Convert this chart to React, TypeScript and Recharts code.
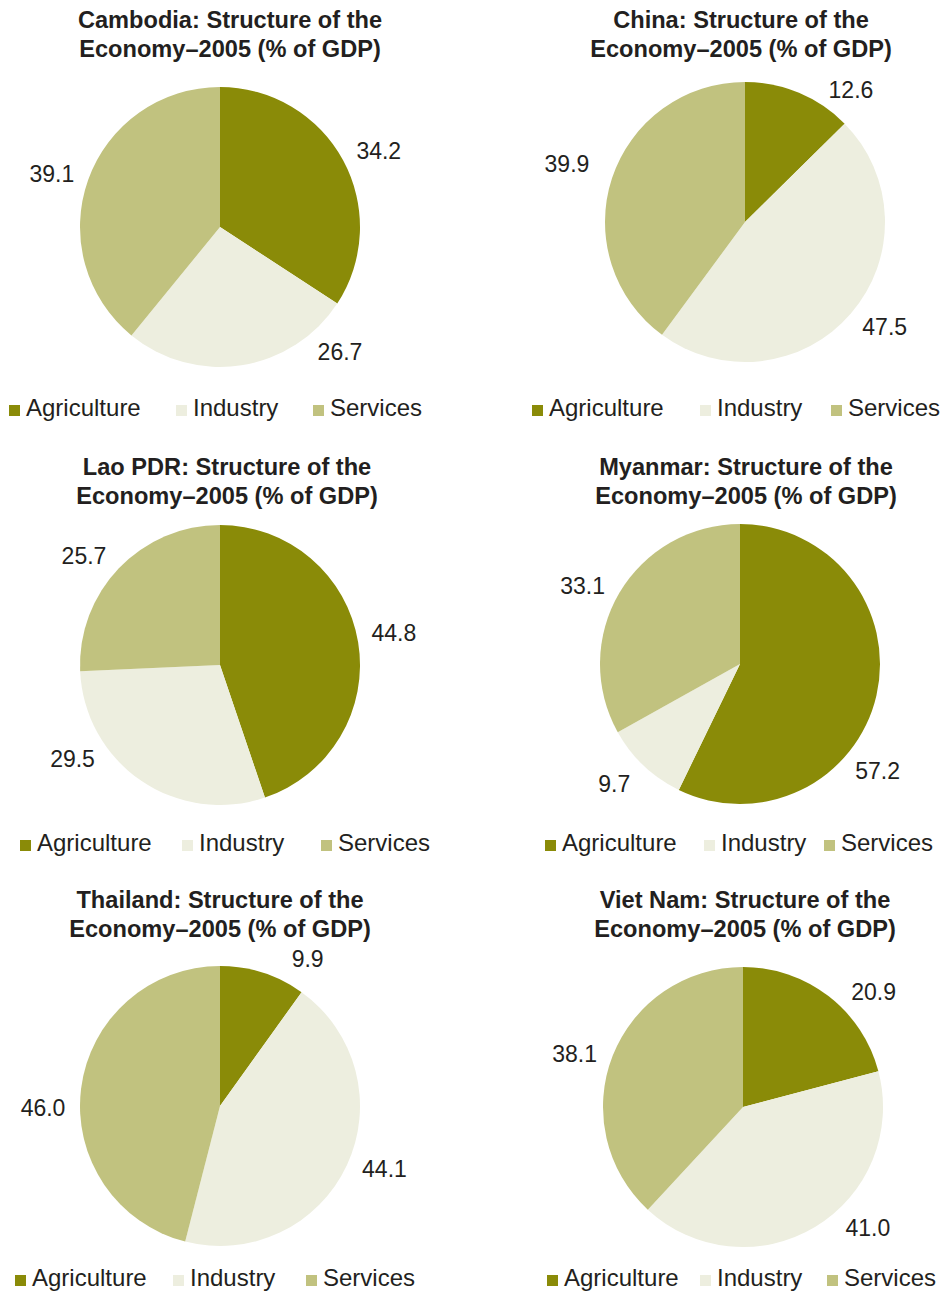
import React from 'react';
import { PieChart, Pie, Cell, Legend } from 'recharts';

// sector order clockwise from 12 o'clock
const sectors = ['Agriculture', 'Industry', 'Services'];
const sectorColors = ['#8a8b08', '#edeedf', '#c1c27f'];

const cambodiaGdp = [34.2, 26.7, 39.1];
const chinaGdp = [12.6, 47.5, 39.9];
const laoGdp = [44.8, 29.5, 25.7];
const myanmarGdp = [57.2, 9.7, 33.1];
const thailandGdp = [9.9, 44.1, 46.0];
const vietNamGdp = [20.9, 41.0, 38.1];

const FONT = '"Liberation Sans", Arial, Helvetica, sans-serif';
const INK = '#231f20';
const RAD = Math.PI / 180;

interface PanelProps {
    country: string;
    values: number[];
    left: number;
    top: number;
    cx: number;
    cy: number;
    titleX: number;
    titleTop: number;
    legendTop: number;
    legendX: number[]; // left edge of each legend swatch
    labelNudge: number[]; // degrees, clockwise, like the hand-placed labels
    labelPush?: number[]; // extra radial px
}

function EconomyPie(p: PanelProps) {
    const rows = sectors.map((name, i) => ({ name, value: p.values[i] }));

    const renderLabel = (props: any) => {
        const { cx, cy, midAngle, index, value } = props;
        const theta = (90 - midAngle + (p.labelNudge[index] || 0)) * RAD;
        const s = Math.sin(theta);
        const dist = 165 + 12 * Math.abs(s) + ((p.labelPush && p.labelPush[index]) || 0);
        const x = cx + dist * s;
        const y = cy - dist * Math.cos(theta);
        return (
            <text x={x} y={y} textAnchor="middle" dominantBaseline="central"
                fill={INK} fontSize={23} fontFamily={FONT}>
                {Number(value).toFixed(1)}
            </text>
        );
    };

    const renderLegend = () => (
        <div style={{ position: 'relative', height: 26, fontFamily: FONT, fontSize: 24, lineHeight: '24px', color: INK }}>
            {sectors.map((name, i) => (
                <div key={name} style={{ position: 'absolute', left: p.legendX[i], top: 0, display: 'flex', alignItems: 'baseline', whiteSpace: 'nowrap' }}>
                    <span style={{ display: 'inline-block', width: 11, height: 11, background: sectorColors[i], marginRight: 6 }}></span>
                    <span>{name}</span>
                </div>
            ))}
        </div>
    );

    return (
        <div style={{ position: 'absolute', left: p.left, top: p.top, width: 470, height: 430 }}>
            <div style={{ position: 'absolute', left: p.titleX - 235, top: p.titleTop, width: 470, textAlign: 'center', fontFamily: FONT, fontWeight: 700, fontSize: 23.6, lineHeight: '29px', color: INK, zIndex: 2 }}>
                {p.country}: Structure of the<br />Economy–2005 (% of GDP)
            </div>
            <PieChart width={470} height={430} margin={{ top: 0, right: 0, bottom: 0, left: 0 }}>
                <Pie
                    data={rows}
                    dataKey="value"
                    nameKey="name"
                    cx={p.cx}
                    cy={p.cy}
                    outerRadius={140}
                    startAngle={90}
                    endAngle={-270}
                    stroke="none"
                    label={renderLabel}
                    labelLine={false}
                    isAnimationActive={false}
                >
                    {rows.map((r, i) => (
                        <Cell key={`cell-${r.name}`} fill={sectorColors[i]} stroke="none" />
                    ))}
                </Pie>
                <Legend
                    verticalAlign="bottom"
                    content={renderLegend}
                    wrapperStyle={{ top: p.legendTop, bottom: 'auto', left: 0, width: 470 }}
                />
            </PieChart>
        </div>
    );
}

export default function App() {
    return (
        <div style={{ position: 'absolute', left: 0, top: 0, width: 941, height: 1292, background: '#fff' }}>
            <EconomyPie country="Cambodia" values={cambodiaGdp} left={0} top={0} cx={220} cy={227}
                titleX={230} titleTop={6} legendTop={396} legendX={[9, 176, 313]} labelNudge={[3, -35, -2]} />
            <EconomyPie country="China" values={chinaGdp} left={470} top={0} cx={275} cy={222}
                titleX={271} titleTop={6} legendTop={396} legendX={[62, 230, 361]} labelNudge={[16, -4, 0]} labelPush={[-3, 0, 11]} />
            <EconomyPie country="Lao PDR" values={laoGdp} left={0} top={440} cx={220} cy={225}
                titleX={227} titleTop={13} legendTop={391} legendX={[20, 182, 321]} labelNudge={[-1, 23, -5]} />
            <EconomyPie country="Myanmar" values={myanmarGdp} left={470} top={440} cx={270} cy={224}
                titleX={276} titleTop={13} legendTop={391} legendX={[75, 234, 354]} labelNudge={[25, 3, -4]} />
            <EconomyPie country="Thailand" values={thailandGdp} left={0} top={873} cx={220} cy={233}
                titleX={220} titleTop={13} legendTop={393} legendX={[15, 173, 306]} labelNudge={[13, -4, -8]} />
            <EconomyPie country="Viet Nam" values={vietNamGdp} left={470} top={873} cx={273} cy={234}
                titleX={275} titleTop={13} legendTop={393} legendX={[77, 230, 357]} labelNudge={[11, -15, -4]} />
        </div>
    );
}
